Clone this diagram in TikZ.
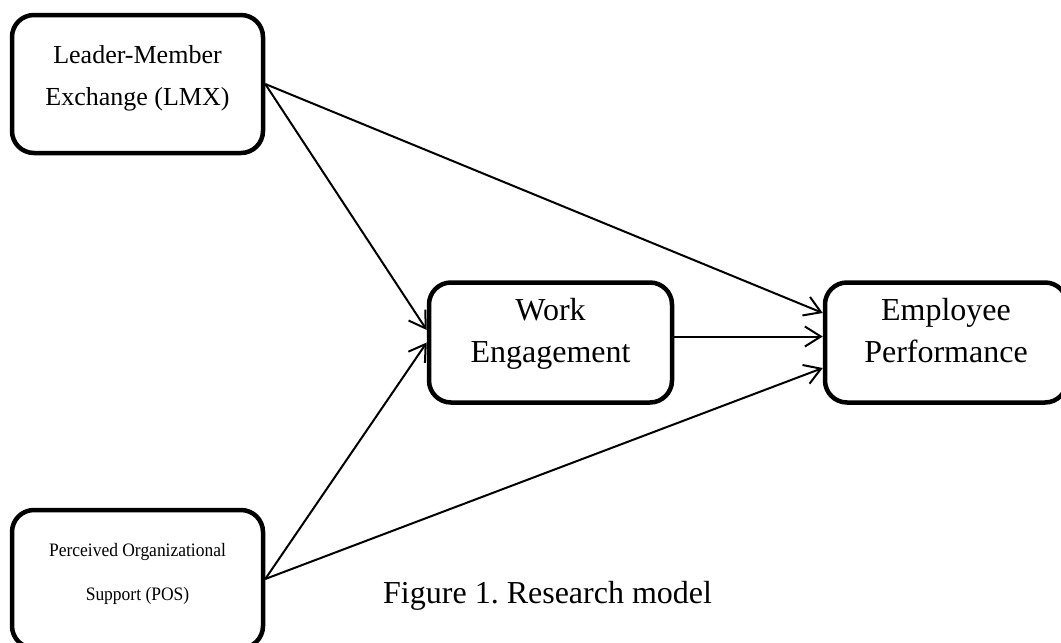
\documentclass[tikz,border=0pt]{standalone}
\usepackage{fontspec}
\setmainfont{Liberation Serif}
\newfontfamily\posfont[FakeStretch=0.92]{Liberation Serif}
\usepackage{tikz}
\usetikzlibrary{arrows.meta, positioning}
\tikzset{
    modelbox/.style={rectangle, draw=black, fill=white, rounded corners=22pt, line width=4.5pt, align=center, inner sep=0pt},
    sidebox/.style={modelbox, minimum width=251pt, minimum height=138pt},
    corebox/.style={modelbox, minimum width=243pt, minimum height=120pt, font=\fontsize{32}{42}\selectfont, text depth=25pt},
    modelarrow/.style={-{Straight Barb[length=16pt, width=20pt]}, line width=2pt},
    figcaption/.style={font=\fontsize{32}{38}\selectfont, inner sep=0pt}
}
\frenchspacing

\begin{document}
\begin{tikzpicture}[x=1pt, y=-1pt]

\useasboundingbox[fill=white] (0,0) rectangle (1061,643);

\node[sidebox, font=\fontsize{26}{42}\selectfont, text depth=18pt] (lmx) at (137.5,84) {Leader-Member\\Exchange (LMX)};
\node[sidebox, font=\posfont\fontsize{19}{44}\selectfont, text depth=15pt] (pos) at (137.5,579) {Perceived Organizational\\Support (POS)};
\node[corebox] (we) at (550.5,342.5) {Work\\Engagement};
\node[corebox, minimum width=242pt] (ep) at (946,342.5) {Employee\\Performance};
\node[figcaption, anchor=base west] (caption) at (383,603) {Figure 1. Research model};

\draw[modelarrow] (lmx.east) -- ([yshift=12.5pt]we.west);
\draw[modelarrow] (lmx.east) -- ([yshift=29.5pt]ep.west);
\draw[modelarrow] (pos.east) -- ([yshift=0pt]we.west);
\draw[modelarrow] (pos.east) -- ([yshift=-25.5pt]ep.west);
\draw[modelarrow] ([yshift=6pt]we.east) -- ([yshift=6pt]ep.west);

\end{tikzpicture}
\end{document}
